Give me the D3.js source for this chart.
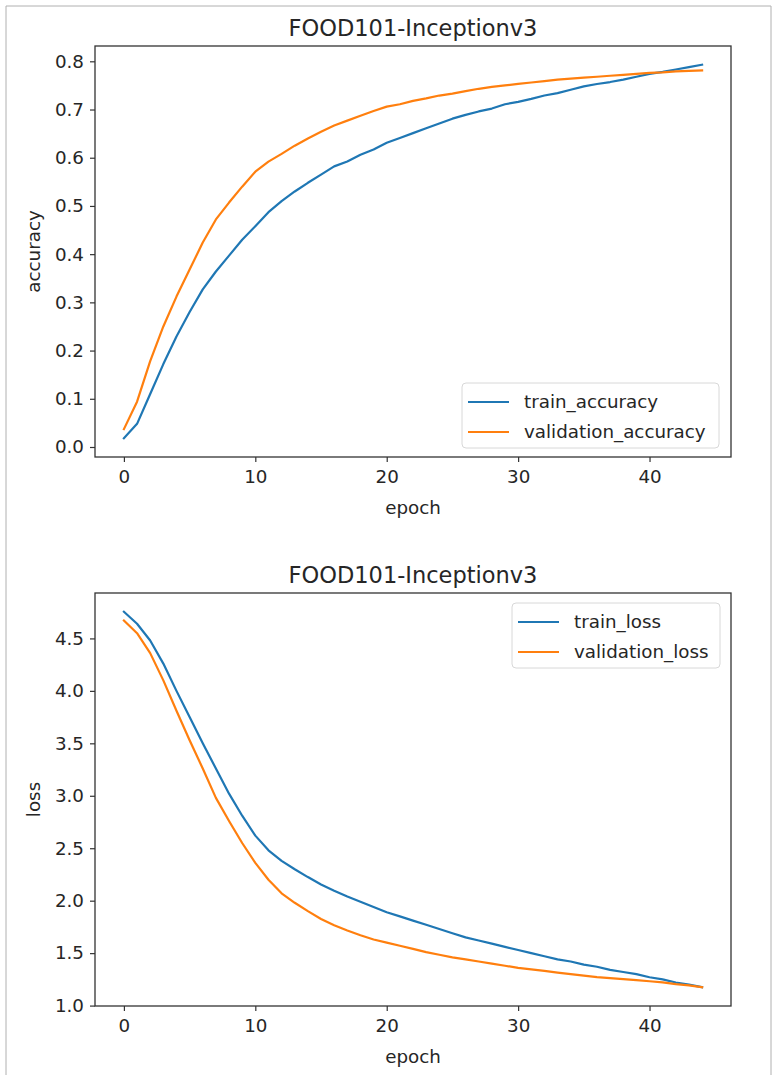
<!DOCTYPE html>
<html>
<head>
<meta charset="utf-8">
<script src="https://cdn.jsdelivr.net/npm/d3@7"></script>
<style>
  html, body { margin: 0; padding: 0; background: #fff; }
  svg { display: block; font-family: "DejaVu Sans", sans-serif; }
</style>
</head>
<body>
<div id="chart"></div>
<script>
// epochs 0..44
const epochs = d3.range(0, 45);

const trainAccuracy = [
    0.018, 0.048, 0.110, 0.172, 0.229, 0.280, 0.327, 0.364, 0.397, 0.430,
    0.458, 0.487, 0.510, 0.530, 0.548, 0.565, 0.582, 0.592, 0.606, 0.617,
    0.631, 0.641, 0.651, 0.661, 0.671, 0.681, 0.689, 0.696, 0.702, 0.711,
    0.716, 0.722, 0.729, 0.734, 0.741, 0.748, 0.753, 0.757, 0.762, 0.768,
    0.774, 0.778, 0.783, 0.788, 0.793
];
const validationAccuracy = [
    0.037, 0.094, 0.178, 0.250, 0.312, 0.368, 0.424, 0.472, 0.507, 0.540,
    0.571, 0.592, 0.608, 0.625, 0.640, 0.654, 0.667, 0.677, 0.687, 0.697,
    0.706, 0.711, 0.718, 0.723, 0.729, 0.733, 0.738, 0.743, 0.747, 0.750,
    0.753, 0.756, 0.759, 0.762, 0.764, 0.766, 0.768, 0.770, 0.772, 0.774,
    0.776, 0.777, 0.779, 0.780, 0.781
];
const trainLoss = [
    4.754, 4.640, 4.480, 4.260, 4.000, 3.750, 3.500, 3.260, 3.020, 2.810,
    2.620, 2.480, 2.380, 2.300, 2.225, 2.155, 2.095, 2.040, 1.990, 1.940,
    1.890, 1.850, 1.810, 1.770, 1.730, 1.690, 1.650, 1.620, 1.590, 1.560,
    1.530, 1.500, 1.470, 1.440, 1.420, 1.390, 1.370, 1.340, 1.320, 1.300,
    1.270, 1.250, 1.220, 1.200, 1.175
];
const validationLoss = [
    4.670, 4.550, 4.360, 4.100, 3.810, 3.530, 3.260, 2.980, 2.760, 2.550,
    2.360, 2.200, 2.070, 1.980, 1.900, 1.825, 1.765, 1.715, 1.670, 1.630,
    1.600, 1.570, 1.540, 1.510, 1.485, 1.460, 1.440, 1.420, 1.400, 1.380,
    1.360, 1.345, 1.330, 1.315, 1.300, 1.285, 1.272, 1.262, 1.252, 1.242,
    1.232, 1.222, 1.205, 1.192, 1.175
];

const accTicks = [0.0, 0.1, 0.2, 0.3, 0.4, 0.5, 0.6, 0.7, 0.8];
const lossTicks = [1.0, 1.5, 2.0, 2.5, 3.0, 3.5, 4.0, 4.5];
const epochTicks = [0, 10, 20, 30, 40];

const W = 783, H = 1075;
const BLUE = '#1f77b4', ORANGE = '#ff7f0e';
const TICK_FONT = 18.3, TITLE_FONT = 22.5;

const svg = d3.select('#chart').append('svg')
    .attr('width', W)
    .attr('height', H)
    .attr('viewBox', [0, 0, W, H]);

// screenshot frame
svg.append('path')
    .attr('d', `M6,${H} V6 H771 V${H}`)
    .attr('fill', 'none')
    .attr('stroke', '#b0b0b0')
    .attr('stroke-width', 1);

function paddedDomain(values) {
    const lo = d3.min(values), hi = d3.max(values);
    const pad = (hi - lo) * 0.05;
    return [lo - pad, hi + pad];
}

function drawPanel(opt) {
    const x = d3.scaleLinear()
        .domain([-2.2, 46.2])
        .range([opt.left, opt.right]);
    const y = d3.scaleLinear()
        .domain(paddedDomain(opt.series[0].values.concat(opt.series[1].values)))
        .range([opt.bottom, opt.top]);

    const g = svg.append('g');

    // lines
    const line = d3.line()
        .x((d, i) => x(epochs[i]))
        .y(d => y(d));

    opt.series.forEach(s => {
        g.append('path')
            .datum(s.values)
            .attr('fill', 'none')
            .attr('stroke', s.color)
            .attr('stroke-width', 2.2)
            .attr('stroke-linejoin', 'round')
            .attr('stroke-linecap', 'square')
            .attr('d', line);
    });

    // axes
    const xAxis = g.append('g')
        .attr('transform', `translate(0,${opt.bottom})`)
        .call(d3.axisBottom(x).tickValues(epochTicks).tickSize(5).tickPadding(8).tickFormat(d3.format('d')));
    const yAxis = g.append('g')
        .attr('transform', `translate(${opt.left},0)`)
        .call(d3.axisLeft(y).tickValues(opt.ticks).tickSize(5).tickPadding(6).tickFormat(d3.format('.1f')));

    [xAxis, yAxis].forEach(a => {
        a.select('.domain').remove();
        a.selectAll('line').attr('stroke', '#333').attr('stroke-width', 1.2);
        a.selectAll('text')
            .attr('fill', '#262626')
            .attr('font-size', TICK_FONT + 'px')
            .attr('font-family', '"DejaVu Sans", sans-serif');
    });

    // frame
    g.append('rect')
        .attr('x', opt.left)
        .attr('y', opt.top)
        .attr('width', opt.right - opt.left)
        .attr('height', opt.bottom - opt.top)
        .attr('fill', 'none')
        .attr('stroke', '#333')
        .attr('stroke-width', 1.3);

    // title and labels
    g.append('text')
        .attr('x', (opt.left + opt.right) / 2)
        .attr('y', opt.top - 10)
        .attr('text-anchor', 'middle')
        .attr('font-size', TITLE_FONT + 'px')
        .attr('fill', '#262626')
        .text(opt.title);

    g.append('text')
        .attr('x', (opt.left + opt.right) / 2)
        .attr('y', opt.bottom + 57)
        .attr('text-anchor', 'middle')
        .attr('font-size', TICK_FONT + 'px')
        .attr('fill', '#262626')
        .text('epoch');

    g.append('text')
        .attr('transform', `translate(40,${(opt.top + opt.bottom) / 2}) rotate(-90)`)
        .attr('text-anchor', 'middle')
        .attr('font-size', TICK_FONT + 'px')
        .attr('fill', '#262626')
        .text(opt.ylabel);

    // legend
    const lg = g.append('g').attr('transform', `translate(${opt.legend.x},${opt.legend.y})`);
    lg.append('rect')
        .attr('width', opt.legend.w)
        .attr('height', 65)
        .attr('rx', 4)
        .attr('fill', '#fff')
        .attr('fill-opacity', 0.8)
        .attr('stroke', '#d8d8d8')
        .attr('stroke-width', 1);
    opt.series.forEach((s, i) => {
        const cy = 19 + i * 30;
        lg.append('line')
            .attr('x1', 6).attr('x2', 47)
            .attr('y1', cy).attr('y2', cy)
            .attr('stroke', s.color)
            .attr('stroke-width', 2.2);
        lg.append('text')
            .attr('x', 62)
            .attr('y', cy)
            .attr('dy', '0.35em')
            .attr('font-size', TICK_FONT + 'px')
            .attr('fill', '#262626')
            .text(s.name);
    });
}

drawPanel({
    title: 'FOOD101-Inceptionv3',
    ylabel: 'accuracy',
    left: 95, right: 731, top: 46, bottom: 457,
    ticks: accTicks,
    series: [
        { name: 'train_accuracy', values: trainAccuracy, color: BLUE },
        { name: 'validation_accuracy', values: validationAccuracy, color: ORANGE }
    ],
    legend: { x: 462, y: 383, w: 257 }
});

drawPanel({
    title: 'FOOD101-Inceptionv3',
    ylabel: 'loss',
    left: 95, right: 731, top: 593, bottom: 1006,
    ticks: lossTicks,
    series: [
        { name: 'train_loss', values: trainLoss, color: BLUE },
        { name: 'validation_loss', values: validationLoss, color: ORANGE }
    ],
    legend: { x: 512, y: 603, w: 208 }
});
</script>
</body>
</html>
